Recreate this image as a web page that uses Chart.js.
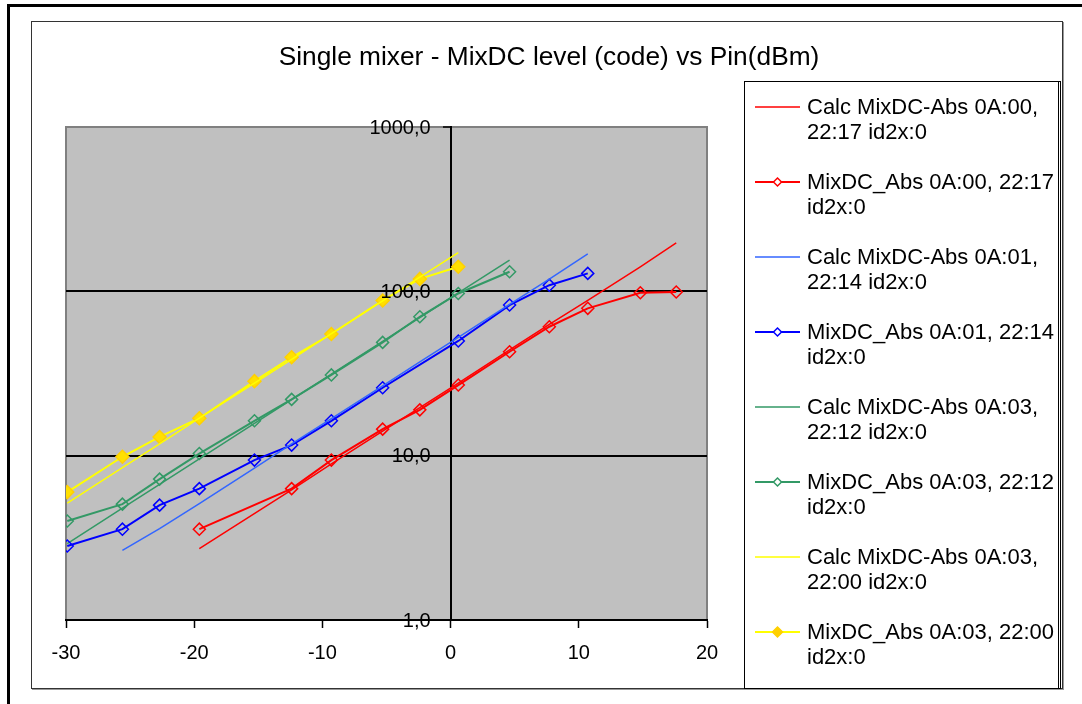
<!DOCTYPE html>
<html><head><meta charset="utf-8">
<script src="https://cdn.jsdelivr.net/npm/chart.js@4.4.1/dist/chart.umd.min.js"></script>
<style>
html,body{margin:0;padding:0;background:#fff;}
#wrap{position:relative;width:1082px;height:704px;overflow:hidden;background:#fff;}
.ln{position:absolute;background:#000;}
#frame{position:absolute;left:31px;top:21px;width:1030px;height:666px;border:1px solid #333;box-shadow:1px 1px 0 #999;}
#legbox{position:absolute;left:744px;top:81px;width:313px;height:606px;border:1px solid #000;border-right:3px double #000;}
canvas{position:absolute;left:0;top:0;}
</style></head>
<body><div id="wrap">
<div class="ln" style="left:7px;top:4px;width:1075px;height:3px"></div>
<div class="ln" style="left:7px;top:4px;width:3px;height:700px"></div>
<div id="frame"></div>
<div id="legbox"></div>
<canvas id="c" width="1082" height="704"></canvas>
</div>
<script>
// ---- data ----
const chartTitle = "Single mixer - MixDC level (code) vs Pin(dBm)";
const seriesLabels = [
  "Calc MixDC-Abs 0A:00, 22:17 id2x:0",
  "MixDC_Abs 0A:00, 22:17 id2x:0",
  "Calc MixDC-Abs 0A:01, 22:14 id2x:0",
  "MixDC_Abs 0A:01, 22:14 id2x:0",
  "Calc MixDC-Abs 0A:03, 22:12 id2x:0",
  "MixDC_Abs 0A:03, 22:12 id2x:0",
  "Calc MixDC-Abs 0A:03, 22:00 id2x:0",
  "MixDC_Abs 0A:03, 22:00 id2x:0"
];
const xTicks = [-30, -20, -10, 0, 10, 20];
const yTicks = [1, 10, 100, 1000];
const yTickLabels = ["1,0", "10,0", "100,0", "1000,0"];

const redCalcX  = [-19.6, -12.4, -9.3, -5.3, -2.4, 0.6, 4.6, 7.7, 10.7, 14.8, 17.6];
const redCalcY  = [2.72, 6.2, 8.9, 14.1, 19.6, 27.6, 44, 63, 88, 141, 197];
const redMeasX  = [-19.6, -12.4, -9.3, -5.3, -2.4, 0.6, 4.6, 7.7, 10.7, 14.8, 17.6];
const redMeasY  = [3.57, 6.3, 9.4, 14.5, 19.0, 26.9, 42.9, 60.9, 78.8, 98, 99];

const blueCalcX = [-25.6, -22.7, -19.6, -15.3, -12.4, -9.3, -5.3, -2.4, 0.6, 4.6, 7.7, 10.7];
const blueCalcY = [2.65, 3.6, 5.1, 8.4, 11.8, 16.8, 26.6, 37.2, 52.4, 83.3, 118.6, 169];
const blueMeasX = [-29.9, -25.6, -22.7, -19.6, -15.3, -12.4, -9.3, -5.3, 0.6, 4.6, 7.7, 10.7];
const blueMeasY = [2.82, 3.57, 5.0, 6.3, 9.4, 11.6, 16.3, 25.9, 49.9, 82.5, 109, 128.6];

const greenCalcX = [-29.9, -25.6, -22.7, -19.6, -15.3, -12.4, -9.3, -5.3, -2.4, 0.6, 4.6];
const greenCalcY = [2.92, 4.79, 6.69, 9.56, 15.7, 21.9, 31.3, 49.6, 69.3, 97.8, 155];
const greenMeasX = [-29.9, -25.6, -22.7, -19.6, -15.3, -12.4, -9.3, -5.3, -2.4, 0.6, 4.6];
const greenMeasY = [4.0, 5.07, 7.2, 10.3, 16.3, 22.0, 31.0, 48.9, 70, 97, 131.6];

const yellowCalcX = [-29.9, -25.6, -22.7, -19.6, -15.3, -12.4, -9.3, -5.3, -2.4, 0.6];
const yellowCalcY = [5.15, 8.45, 11.8, 16.9, 27.6, 38.6, 55.2, 87.5, 122, 172];
const yellowMeasX = [-29.9, -25.6, -22.7, -19.6, -15.3, -12.4, -9.3, -5.3, -2.4, 0.6];
const yellowMeasY = [6.0, 9.85, 13.0, 16.9, 28.4, 39.7, 55, 88, 119, 141];

// ---- styles ----
const FONT = "'Liberation Sans', Arial, sans-serif";
const seriesX = [redCalcX, redMeasX, blueCalcX, blueMeasX, greenCalcX, greenMeasX, yellowCalcX, yellowMeasX];
const seriesY = [redCalcY, redMeasY, blueCalcY, blueMeasY, greenCalcY, greenMeasY, yellowCalcY, yellowMeasY];
const lineColors = ['#FF0000', '#FF0000', '#3366FF', '#0000FF', '#339966', '#339966', '#FFFF00', '#FFFF00'];
const isMeasured = [false, true, false, true, false, true, false, true];

const datasets = seriesLabels.map((lab, i) => {
  const meas = isMeasured[i];
  const filled = i === 7;
  return {
    label: lab,
    data: seriesX[i].map((x, j) => ({x: x, y: seriesY[i][j]})),
    borderColor: lineColors[i],
    borderWidth: meas ? 2 : 1.5,
    pointStyle: 'rectRot',
    pointRadius: meas ? (filled ? 6.5 : 6) : 0,
    pointBorderWidth: 1.5,
    pointBorderColor: filled ? '#FFD000' : lineColors[i],
    pointBackgroundColor: filled ? '#FFE000' : 'rgba(0,0,0,0)',
    tension: 0,
    fill: false
  };
});

const bgPlugin = {
  id: 'bg',
  beforeDraw(chart) {
    const {ctx, chartArea: a} = chart;
    ctx.save();
    ctx.fillStyle = '#C0C0C0';
    ctx.fillRect(a.left, a.top, a.right - a.left, a.bottom - a.top);
    ctx.strokeStyle = '#808080';
    ctx.lineWidth = 2;
    ctx.beginPath();
    ctx.moveTo(a.left, a.bottom);
    ctx.lineTo(a.left, a.top);
    ctx.lineTo(a.right, a.top);
    ctx.lineTo(a.right, a.bottom);
    ctx.stroke();
    ctx.restore();
  }
};

// y tick labels sit left of the crossing axis (at x = 0) with a gap
const yLabelPlugin = {
  id: 'yLabels',
  afterDatasetsDraw(chart) {
    const ctx = chart.ctx;
    const xs = chart.scales.x, ys = chart.scales.y;
    const ax = xs.getPixelForValue(0);
    ctx.save();
    ctx.fillStyle = '#000';
    ctx.font = '20px ' + FONT;
    ctx.textAlign = 'right';
    ctx.textBaseline = 'middle';
    yTicks.forEach((v, i) => ctx.fillText(yTickLabels[i], ax - 20, ys.getPixelForValue(v) + 1));
    ctx.restore();
  }
};

const titleLegendPlugin = {
  id: 'titleLegend',
  afterDraw(chart) {
    const ctx = chart.ctx;
    ctx.save();
    ctx.fillStyle = '#000';
    ctx.font = '26.3px ' + FONT;
    ctx.textAlign = 'center';
    ctx.textBaseline = 'middle';
    ctx.fillText(chartTitle, 549, 58);

    ctx.font = '22px ' + FONT;
    ctx.textAlign = 'left';
    const maxW = 252;
    chart.data.datasets.forEach((ds, i) => {
      const y0 = 107 + 75 * i;
      ctx.strokeStyle = ds.borderColor;
      ctx.lineWidth = ds.borderWidth;
      ctx.beginPath();
      ctx.moveTo(755, y0);
      ctx.lineTo(800, y0);
      ctx.stroke();
      if (ds.pointRadius > 0) {
        const r = i === 7 ? 5 : 4;
        ctx.beginPath();
        ctx.moveTo(777.5, y0 - r);
        ctx.lineTo(777.5 + r, y0);
        ctx.lineTo(777.5, y0 + r);
        ctx.lineTo(777.5 - r, y0);
        ctx.closePath();
        ctx.fillStyle = i === 7 ? '#FFD000' : '#fff';
        ctx.fill();
        ctx.strokeStyle = ds.pointBorderColor;
        ctx.lineWidth = 1.5;
        ctx.stroke();
      }
      const words = ds.label.split(' ');
      const lines = [];
      let cur = '';
      words.forEach(w => {
        const t = cur ? cur + ' ' + w : w;
        if (ctx.measureText(t).width > maxW && cur) { lines.push(cur); cur = w; }
        else cur = t;
      });
      if (cur) lines.push(cur);
      ctx.fillStyle = '#000';
      lines.forEach((ln, k) => ctx.fillText(ln, 807, y0 + 1 + 25 * k));
    });
    ctx.restore();
  }
};

new Chart(document.getElementById('c'), {
  type: 'line',
  data: {datasets: datasets},
  plugins: [bgPlugin, yLabelPlugin, titleLegendPlugin],
  options: {
    responsive: false,
    animation: false,
    devicePixelRatio: 1,
    layout: {padding: {left: 66, top: 127, right: 375, bottom: 84}},
    plugins: {legend: {display: false}, title: {display: false}, tooltip: {enabled: false}},
    scales: {
      x: {
        type: 'linear',
        position: {y: 1},
        min: -30, max: 20,
        afterBuildTicks: axis => { axis.ticks = xTicks.map(v => ({value: v})); },
        ticks: {color: '#000', font: {family: FONT, size: 20}, padding: 14, maxRotation: 0},
        grid: {drawOnChartArea: false, drawTicks: true, tickLength: 7, tickColor: '#000', tickWidth: 1.5},
        border: {display: true, color: '#000', width: 2}
      },
      y: {
        type: 'logarithmic',
        position: {x: 0},
        min: 1, max: 1000,
        afterBuildTicks: axis => { axis.ticks = yTicks.map(v => ({value: v})); },
        ticks: {display: false, callback: (v, i) => yTickLabels[i]},
        grid: {
          drawOnChartArea: true, drawTicks: true, tickLength: 7, tickColor: '#000', tickWidth: 1.5,
          color: c => (c.tick && c.tick.value === 1000) ? '#808080' : '#000',
          lineWidth: 2
        },
        border: {display: true, color: '#000', width: 2}
      }
    }
  }
});
</script>
</body></html>
